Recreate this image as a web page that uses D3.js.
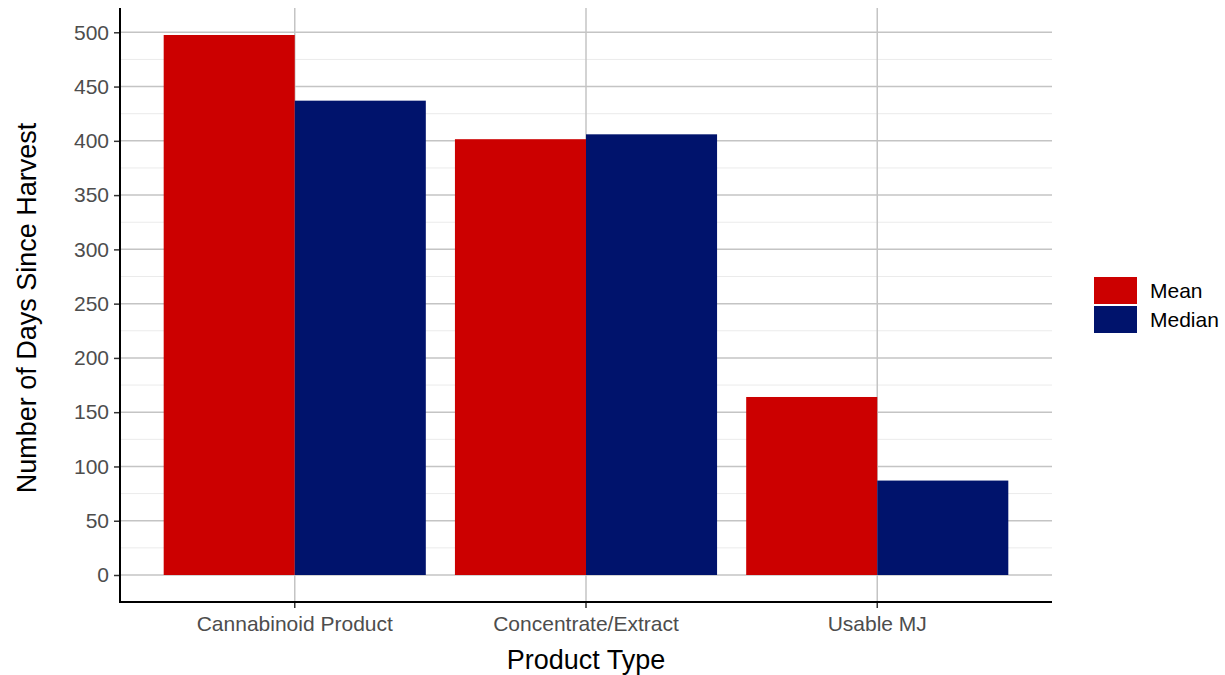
<!DOCTYPE html>
<html><head><meta charset="utf-8">
<script src="https://cdn.jsdelivr.net/npm/d3@7"></script>
<style>body{margin:0;background:#fff;} text{font-family:Arial,"Liberation Sans",sans-serif;}</style>
</head><body>
<svg id="c" width="1225" height="675"></svg>
<script>
const categories = ["Cannabinoid Product", "Concentrate/Extract", "Usable MJ"];
const seriesNames = ["Mean", "Median"];
const meanValues = [497.5, 401.5, 164];
const medianValues = [437, 406, 87];
const yTicks = [0, 50, 100, 150, 200, 250, 300, 350, 400, 450, 500];
const colors = ["#CC0000", "#00136C"];

const svg = d3.select("#c");
const L = 120, R = 1052, T = 8, B = 602;
const allVals = meanValues.concat(medianValues);
const maxV = d3.max(allVals);
const pad = 0.05 * maxV;
const y = d3.scaleLinear().domain([-pad, maxV + pad]).range([B, T]);
const x = d3.scaleBand().domain(categories).range([L, R]).paddingInner(0.1).paddingOuter(0.15);
const xs = d3.scaleBand().domain(seriesNames).range([0, x.bandwidth()]);

// minor grid
const minor = d3.range(25, maxV + pad, 50);
svg.append("g").selectAll("line").data(minor).join("line")
  .attr("x1", L).attr("x2", R).attr("y1", d => y(d)).attr("y2", d => y(d))
  .attr("stroke", "#ebebeb").attr("stroke-width", 1);
// major grid
svg.append("g").selectAll("line").data(yTicks).join("line")
  .attr("x1", L).attr("x2", R).attr("y1", d => y(d)).attr("y2", d => y(d))
  .attr("stroke", "#c4c4c4").attr("stroke-width", 1.5);
svg.append("g").selectAll("line").data(categories).join("line")
  .attr("x1", d => x(d) + x.bandwidth() / 2).attr("x2", d => x(d) + x.bandwidth() / 2)
  .attr("y1", T).attr("y2", B)
  .attr("stroke", "#c4c4c4").attr("stroke-width", 1.5);

// bars
const series = [meanValues, medianValues];
const g = svg.append("g");
categories.forEach((c, i) => {
  seriesNames.forEach((s, j) => {
    const v = series[j][i];
    g.append("rect")
      .attr("x", x(c) + xs(s)).attr("width", xs.bandwidth())
      .attr("y", y(v)).attr("height", y(0) - y(v))
      .attr("fill", colors[j]);
  });
});

// axes
const yAxis = svg.append("g").attr("transform", `translate(${L},0)`)
  .call(d3.axisLeft(y).tickValues(yTicks).tickSize(6).tickPadding(5));
yAxis.select(".domain").remove();
yAxis.selectAll(".tick line").attr("stroke", "#333").attr("stroke-width", 1.5);
yAxis.selectAll(".tick text").attr("font-size", 21).attr("fill", "#4d4d4d")
  .attr("font-family", "Arial, 'Liberation Sans', sans-serif");

const xAxis = svg.append("g").attr("transform", `translate(0,${B})`)
  .call(d3.axisBottom(x).tickSize(6).tickPadding(8));
xAxis.select(".domain").remove();
xAxis.selectAll(".tick line").attr("stroke", "#333").attr("stroke-width", 1.5);
xAxis.selectAll(".tick text").attr("font-size", 21).attr("fill", "#4d4d4d")
  .attr("font-family", "Arial, 'Liberation Sans', sans-serif");

svg.append("line").attr("x1", L).attr("x2", L).attr("y1", T).attr("y2", B + 1)
  .attr("stroke", "#000").attr("stroke-width", 2);
svg.append("line").attr("x1", L - 1).attr("x2", R).attr("y1", B).attr("y2", B)
  .attr("stroke", "#000").attr("stroke-width", 2);

// titles
svg.append("text").attr("x", (L + R) / 2).attr("y", 669).attr("text-anchor", "middle")
  .attr("font-size", 27).attr("fill", "#000").text("Product Type");
svg.append("text").attr("transform", `translate(36,${(T + B) / 2 + 3}) rotate(-90)`)
  .attr("text-anchor", "middle").attr("font-size", 27).attr("fill", "#000")
  .text("Number of Days Since Harvest");

// legend
const lg = svg.append("g").attr("transform", "translate(1094,277)");
seriesNames.forEach((s, j) => {
  lg.append("rect").attr("x", 0).attr("y", j * 29).attr("width", 43).attr("height", 27)
    .attr("fill", colors[j]);
  lg.append("text").attr("x", 56).attr("y", j * 29 + 13.5).attr("dy", "0.36em")
    .attr("font-size", 21).attr("fill", "#000").text(s);
});
</script>
</body></html>
